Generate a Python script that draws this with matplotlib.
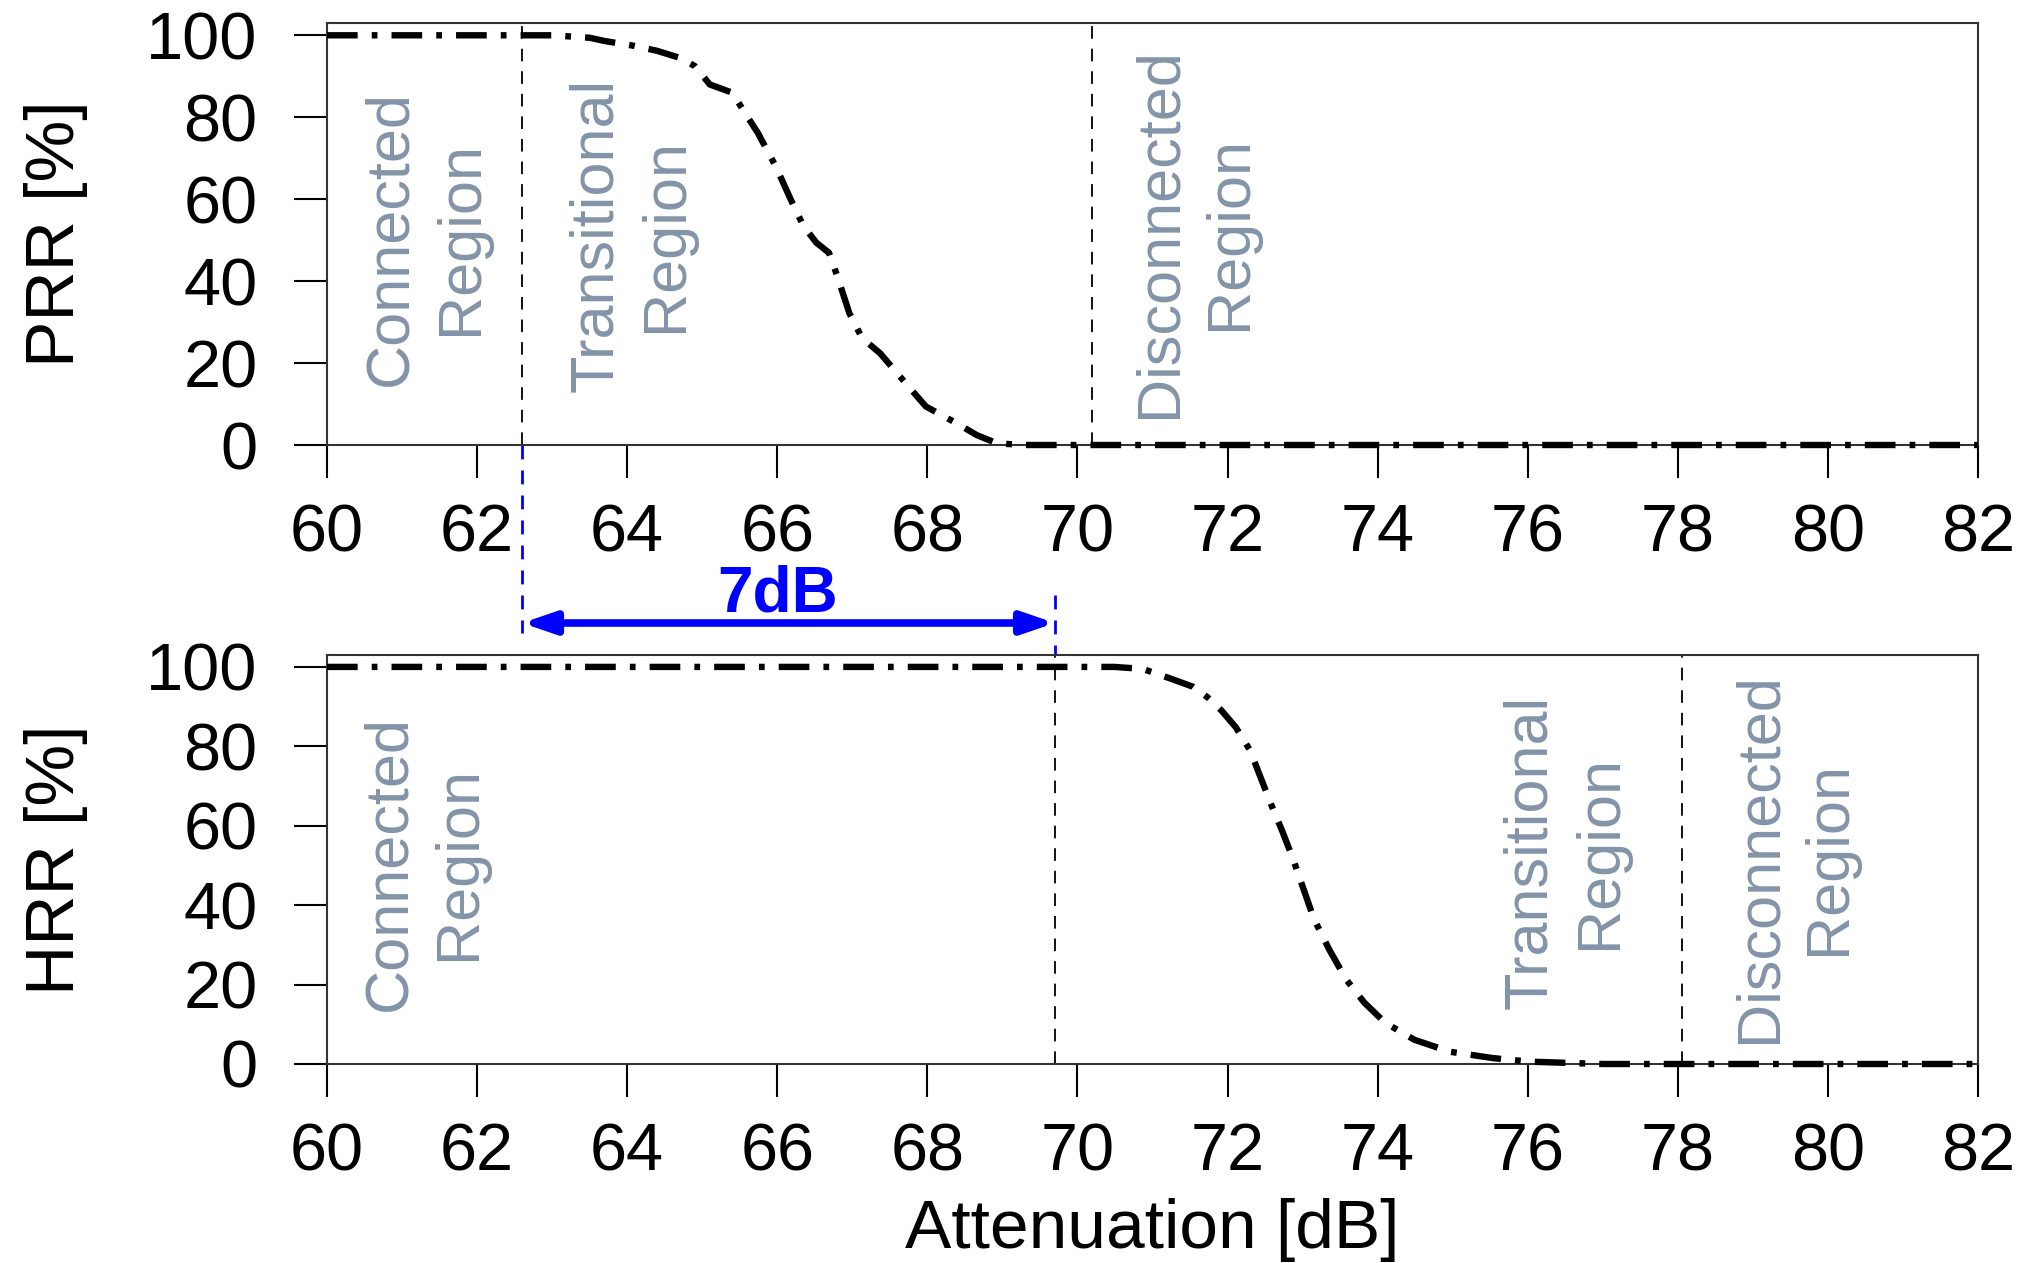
import matplotlib
matplotlib.use("Agg")
import matplotlib.pyplot as plt

plt.rcParams['font.family'] = ['Liberation Sans', 'DejaVu Sans']

# ---- data ----
prr_x = [60, 61, 62, 63, 63.5, 63.7, 64.1, 64.4, 64.7, 64.9, 65.1, 65.4, 65.54, 65.74, 65.98,
         66.18, 66.35, 66.52, 66.69, 66.8, 66.96, 67.13, 67.37, 67.71, 67.98, 68.39, 68.66,
         68.93, 69.3, 70, 72, 74, 76, 78, 80, 82]
prr_y = [100, 100, 100, 100, 99.4, 98.6, 97.4, 96.2, 94.5, 92.5, 88, 86, 81.9, 76.2, 68,
         59.9, 53.4, 49.4, 46.9, 41.2, 32.2, 26.1, 22.4, 15.1, 9.4, 5.3, 2.4,
         0.4, 0, 0, 0, 0, 0, 0, 0, 0]

hrr_x = [60, 62, 64, 66, 68, 70, 70.49, 70.87, 71.25, 71.54, 71.73, 71.92, 72.11, 72.3, 72.44,
         72.58, 72.73, 72.87, 73.01, 73.15, 73.35, 73.58, 73.82, 74.1, 74.49, 74.96, 75.53,
         76.01, 77, 78, 80, 82]
hrr_y = [100, 100, 100, 100, 100, 100, 100, 99.5, 97, 95, 92.4, 89, 84.8, 79, 72.2,
         65.4, 58.6, 51.8, 44.2, 36.6, 29, 21.3, 15.5, 10.4, 6.1, 3.1, 1.5,
         0.6, 0, 0, 0, 0]

prr_bounds = [62.6, 70.2]
hrr_bounds = [69.7, 78.05]
xticks = list(range(60, 83, 2))
yticks = [0, 20, 40, 60, 80, 100]

prr_regions = [(61.32, 50.6, "Connected\nRegion"),
               (64.06, 51.2, "Transitional\nRegion"),
               (71.57, 51.8, "Disconnected\nRegion")]
hrr_regions = [(61.3, 50.5, "Connected\nRegion"),
               (76.5, 53.5, "Transitional\nRegion"),
               (79.56, 52.0, "Disconnected\nRegion")]
gap_label = "7dB"
gap_label_x = 66.0

W, H = 2018, 1263
fig = plt.figure(figsize=(W / 100, H / 100), dpi=100)

ax1 = fig.add_axes([327 / W, 1 - 445 / H, (1978 - 327) / W, (445 - 23) / H])
ax2 = fig.add_axes([327 / W, 1 - 1064 / H, (1978 - 327) / W, (1064 - 655) / H])

region_color = '#8494a8'
curve_style = (0, (4.8, 2.2, 0.9, 2.2))

for ax, xs, ys, bounds, regions, lab in [
        (ax1, prr_x, prr_y, prr_bounds, prr_regions, "PRR [%]"),
        (ax2, hrr_x, hrr_y, hrr_bounds, hrr_regions, "HRR [%]")]:
    ax.plot(xs, ys, color='black', lw=4.6, linestyle=curve_style, clip_on=False, zorder=3)
    for b in bounds:
        ax.axvline(b, color='black', lw=1.3, linestyle=(0, (7, 5.5)), zorder=2)
    for (tx, ty, t) in regions:
        ax.text(tx, ty, t, rotation=90, ha='center', va='center', multialignment='center',
                fontsize=44, color=region_color, linespacing=1.3)
    ax.set_xlim(60, 82)
    ax.set_ylim(0, 103)
    ax.set_xticks(xticks)
    ax.set_yticks(yticks)
    ax.tick_params(axis='both', direction='out', length=24, width=1.5, labelsize=48)
    ax.tick_params(axis='y', pad=26)
    ax.tick_params(axis='x', pad=18)
    ax.set_ylabel(lab, fontsize=50, labelpad=42)
    for s in ax.spines.values():
        s.set_linewidth(1.5)
        s.set_color('#333333')

ax2.set_xlabel("Attenuation [dB]", fontsize=50, labelpad=10)

# ---- 7dB annotation (in top-axes coords: data x, axes-fraction y) ----
tr = ax1.get_xaxis_transform()
blue = '#0000ff'
ax1.plot([prr_bounds[0], prr_bounds[0]], [0, -0.4455], transform=tr, color=blue, lw=2,
         linestyle=(0, (5, 4)), clip_on=False)
ax1.plot([hrr_bounds[0], hrr_bounds[0]], [-0.355, -0.5], transform=tr, color=blue, lw=2,
         linestyle=(0, (5, 4)), clip_on=False)
ax1.annotate("", xy=(prr_bounds[0], -0.4218), xytext=(hrr_bounds[0], -0.4218),
             xycoords=tr, textcoords=tr,
             arrowprops=dict(arrowstyle='<|-|>,head_length=1.9,head_width=0.65',
                             color=blue, lw=5.5, shrinkA=0, shrinkB=0),
             annotation_clip=False)
ax1.text(gap_label_x, -0.395, gap_label, transform=tr,
         ha='center', va='baseline', fontsize=46, fontweight='bold', color=blue)

fig.savefig("out.png", dpi=100)
